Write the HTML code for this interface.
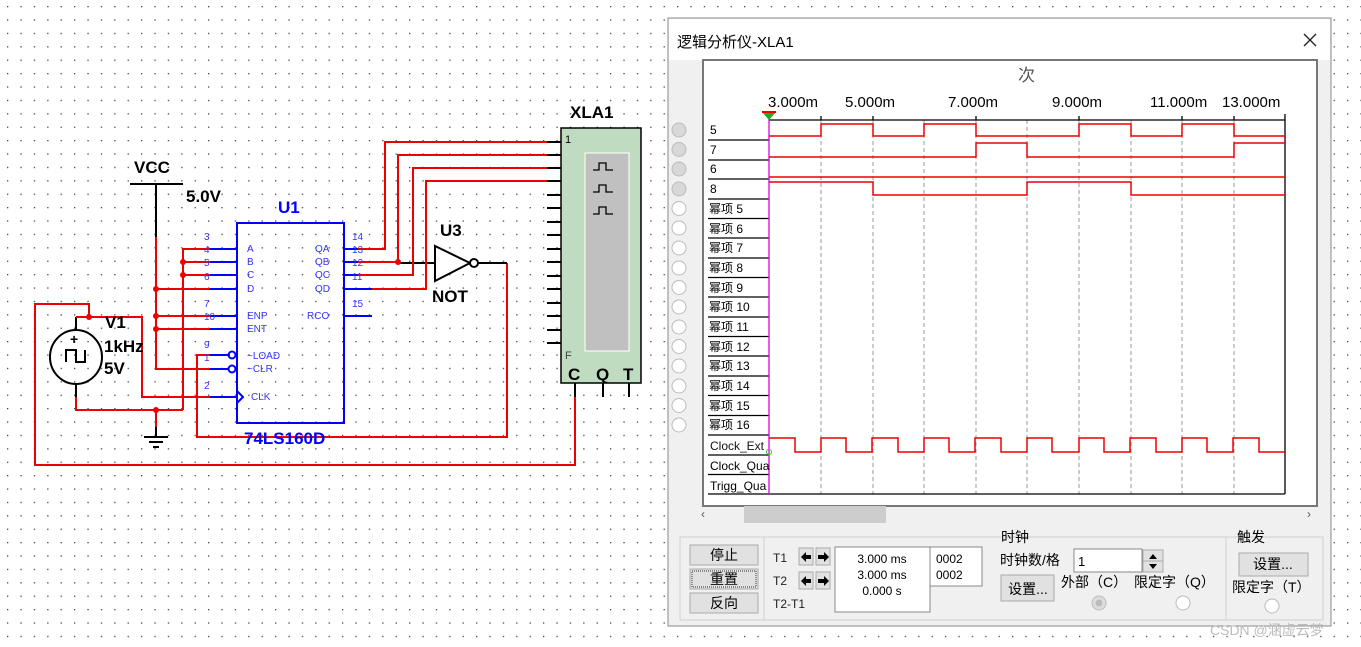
<!DOCTYPE html>
<html><head><meta charset="utf-8"><style>
html,body{margin:0;padding:0;background:#fff}
svg{display:block}
text{font-family:"Liberation Sans","Noto Sans CJK SC",sans-serif}
</style></head><body>
<svg width="1361" height="647" viewBox="0 0 1361 647" xmlns="http://www.w3.org/2000/svg">
<defs>
<pattern id="dots" x="7" y="6" width="13.4" height="13.4" patternUnits="userSpaceOnUse"><rect x="0" y="0" width="1.3" height="1.3" fill="#444"/></pattern>
</defs>
<rect width="1361" height="647" fill="#fff"/>
<rect width="1361" height="647" fill="url(#dots)"/>

<!-- ===== Circuit ===== -->
<g fill="none" stroke-width="2">
<line x1="130" y1="184" x2="183" y2="184" stroke="#000"/>
<line x1="156" y1="184" x2="156" y2="237" stroke="#000"/>
<polyline points="156,237 156,369 210,369" stroke="#e00"/>
<line x1="156" y1="289" x2="210" y2="289" stroke="#e00"/>
<line x1="156" y1="316" x2="210" y2="316" stroke="#e00"/>
<line x1="156" y1="329" x2="210" y2="329" stroke="#e00"/>
<polyline points="210,249 183,249 183,410" stroke="#e00"/>
<line x1="183" y1="262" x2="210" y2="262" stroke="#e00"/>
<line x1="183" y1="275" x2="210" y2="275" stroke="#e00"/>
<polyline points="76,397 76,410 183,410" stroke="#e00"/>
<line x1="76" y1="384" x2="76" y2="397" stroke="#000"/>
<line x1="156" y1="410" x2="156" y2="427" stroke="#e00"/>
<line x1="156" y1="427" x2="156" y2="436" stroke="#000"/>
<line x1="76" y1="317" x2="76" y2="330" stroke="#000"/>
<polyline points="76,317 142,317 142,397 230,397" stroke="#e00"/>
<polyline points="89,317 89,304 35,304 35,465 575,465 575,397" stroke="#e00"/>
<polyline points="230,355 197,355 197,437 507,437 507,263" stroke="#e00"/>
<line x1="478" y1="263" x2="507" y2="263" stroke="#000"/>
<polyline points="358,249 385,249 385,142 547,142" stroke="#e00"/>
<polyline points="358,262 398,262 398,155 547,155" stroke="#e00"/>
<line x1="398" y1="263" x2="435" y2="263" stroke="#000"/>
<polyline points="358,275 413,275 413,168 547,168" stroke="#e00"/>
<polyline points="358,289 426,289 426,181 547,181" stroke="#e00"/>
</g>
<g stroke="#000" stroke-width="2"><line x1="144" y1="437" x2="168" y2="437"/><line x1="149" y1="442" x2="163" y2="442"/><line x1="153" y1="447" x2="159" y2="447"/></g>
<g fill="#e00">
<circle cx="156" cy="289" r="3"/><circle cx="156" cy="316" r="3"/><circle cx="156" cy="329" r="3"/>
<circle cx="183" cy="262" r="3"/><circle cx="183" cy="275" r="3"/><circle cx="156" cy="410" r="3"/>
<circle cx="89" cy="317" r="3"/><circle cx="398" cy="262" r="3"/>
</g>
<ellipse cx="76" cy="357" rx="26" ry="27" fill="none" stroke="#000" stroke-width="2"/>
<polyline points="66,362 66,350 76,350 76,362 85,362 85,350" fill="none" stroke="#000" stroke-width="2"/>
<text x="70" y="344" font-size="14" font-weight="bold">+</text>
<text x="105" y="328" font-size="17" font-weight="bold">V1</text>
<text x="104" y="352" font-size="17" font-weight="bold">1kHz</text>
<text x="104" y="374" font-size="17" font-weight="bold">5V</text>
<text x="134" y="173" font-size="17" font-weight="bold">VCC</text>
<text x="186" y="202" font-size="17" font-weight="bold">5.0V</text>
<g stroke="#00f" stroke-width="2" fill="none">
<rect x="237" y="223" width="107" height="200"/>
<line x1="210" y1="249" x2="237" y2="249"/><line x1="210" y1="262" x2="237" y2="262"/>
<line x1="210" y1="275" x2="237" y2="275"/><line x1="210" y1="289" x2="237" y2="289"/>
<line x1="210" y1="316" x2="237" y2="316"/><line x1="210" y1="329" x2="237" y2="329"/>
<line x1="210" y1="355" x2="228" y2="355"/><line x1="210" y1="369" x2="228" y2="369"/>
<line x1="210" y1="397" x2="237" y2="397"/>
<circle cx="232" cy="355" r="3.5"/><circle cx="232" cy="369" r="3.5"/>
<polyline points="237,391 243,397 237,403"/>
<line x1="344" y1="249" x2="358" y2="249"/><line x1="344" y1="262" x2="358" y2="262"/>
<line x1="344" y1="275" x2="358" y2="275"/><line x1="344" y1="289" x2="372" y2="289"/>
<line x1="344" y1="316" x2="372" y2="316"/>
</g>
<g fill="#33f" font-size="10" font-family="Liberation Mono,monospace">
<text x="204" y="240">3</text><text x="204" y="253">4</text><text x="204" y="266">5</text><text x="204" y="280">6</text>
<text x="204" y="307">7</text><text x="204" y="320">10</text><text x="204" y="348">9</text><text x="204" y="361">1</text><text x="204" y="389">2</text>
<text x="247" y="252">A</text><text x="247" y="265">B</text><text x="247" y="278">C</text><text x="247" y="292">D</text>
<text x="247" y="319">ENP</text><text x="247" y="332">ENT</text><text x="247" y="359">~LOAD</text><text x="247" y="372">~CLR</text><text x="251" y="400">CLK</text>
<text x="315" y="252">QA</text><text x="315" y="265">QB</text><text x="315" y="278">QC</text><text x="315" y="292">QD</text><text x="307" y="319">RCO</text>
<text x="352" y="240">14</text><text x="352" y="253">13</text><text x="352" y="266">12</text><text x="352" y="280">11</text><text x="352" y="307">15</text>
</g>
<text x="278" y="213" font-size="17" font-weight="bold" fill="#00f">U1</text>
<text x="244" y="444" font-size="17" font-weight="bold" fill="#00f">74LS160D</text>
<polygon points="435,246 435,281 470,263" fill="#fff" stroke="#000" stroke-width="2"/>
<circle cx="474" cy="263" r="4" fill="#fff" stroke="#000" stroke-width="2"/>
<text x="440" y="236" font-size="17" font-weight="bold">U3</text>
<text x="432" y="302" font-size="17" font-weight="bold">NOT</text>
<text x="570" y="118" font-size="17" font-weight="bold" font-family="Liberation Mono,monospace">XLA1</text>
<rect x="561" y="128" width="80" height="255" fill="#c0dcc0" stroke="#000" stroke-width="1.5"/>
<rect x="585" y="153" width="44" height="198" fill="#c0c0c0" stroke="#fff" stroke-width="1"/>
<g stroke="#000" stroke-width="1.3" fill="none">
<polyline points="593,170 599,170 599,163 606,163 606,170 613,170"/>
<polyline points="593,192 599,192 599,185 606,185 606,192 613,192"/>
<polyline points="593,214 599,214 599,207 606,207 606,214 613,214"/>
</g>
<g stroke="#000" stroke-width="2">
<line x1="547" y1="142" x2="561" y2="142"/><line x1="547" y1="155" x2="561" y2="155"/><line x1="547" y1="168" x2="561" y2="168"/><line x1="547" y1="181" x2="561" y2="181"/>
<line x1="547" y1="195" x2="561" y2="195"/><line x1="547" y1="208" x2="561" y2="208"/><line x1="547" y1="222" x2="561" y2="222"/><line x1="547" y1="235" x2="561" y2="235"/>
<line x1="547" y1="249" x2="561" y2="249"/><line x1="547" y1="262" x2="561" y2="262"/><line x1="547" y1="276" x2="561" y2="276"/><line x1="547" y1="289" x2="561" y2="289"/>
<line x1="547" y1="303" x2="561" y2="303"/><line x1="547" y1="316" x2="561" y2="316"/><line x1="547" y1="330" x2="561" y2="330"/><line x1="547" y1="343" x2="561" y2="343"/>
<line x1="603" y1="383" x2="603" y2="397"/><line x1="629" y1="383" x2="629" y2="397"/><line x1="575" y1="383" x2="575" y2="397"/>
</g>
<text x="565" y="143" font-size="11">1</text><text x="565" y="359" font-size="11" fill="#444">F</text>
<text x="568" y="380" font-size="17" font-weight="bold">C</text><text x="596" y="380" font-size="17" font-weight="bold">Q</text><text x="623" y="380" font-size="17" font-weight="bold">T</text>

<!-- ===== Logic analyzer window ===== -->
<rect x="668" y="18" width="663" height="608" fill="#f0f0f0" stroke="#888" stroke-width="1"/>
<rect x="669" y="19" width="661" height="41" fill="#fff"/>
<text x="677" y="47" font-size="15">逻辑分析仪-XLA1</text>
<g stroke="#222" stroke-width="1.3"><line x1="1304" y1="34" x2="1316" y2="46"/><line x1="1316" y1="34" x2="1304" y2="46"/></g>
<g stroke="#bbb" stroke-width="1">
<circle cx="679" cy="130" r="7" fill="#d8d8d8"/><circle cx="679" cy="149.5" r="7" fill="#d8d8d8"/><circle cx="679" cy="169" r="7" fill="#d8d8d8"/><circle cx="679" cy="189" r="7" fill="#d8d8d8"/>
<circle cx="679" cy="208.5" r="7" fill="#fff"/><circle cx="679" cy="228" r="7" fill="#fff"/><circle cx="679" cy="248" r="7" fill="#fff"/><circle cx="679" cy="268" r="7" fill="#fff"/>
<circle cx="679" cy="287.5" r="7" fill="#fff"/><circle cx="679" cy="307" r="7" fill="#fff"/><circle cx="679" cy="327" r="7" fill="#fff"/><circle cx="679" cy="346.5" r="7" fill="#fff"/>
<circle cx="679" cy="366" r="7" fill="#fff"/><circle cx="679" cy="386" r="7" fill="#fff"/><circle cx="679" cy="405.5" r="7" fill="#fff"/><circle cx="679" cy="425" r="7" fill="#fff"/>
</g>
<rect x="703" y="60" width="614" height="446" fill="#fff" stroke="#777" stroke-width="2"/>
<text x="1018" y="81" font-size="17" fill="#555" font-family="Liberation Serif,Noto Serif CJK SC,serif">次</text>
<g font-size="15">
<text x="768" y="107">3.000m</text><text x="845" y="107">5.000m</text><text x="948" y="107">7.000m</text>
<text x="1052" y="107">9.000m</text><text x="1150" y="107">11.000m</text><text x="1222" y="107">13.000m</text>
</g>
<g stroke="#999" stroke-width="1" stroke-dasharray="4,3">
<line x1="821" y1="120" x2="821" y2="494"/><line x1="873" y1="120" x2="873" y2="494"/><line x1="924" y1="120" x2="924" y2="494"/>
<line x1="976" y1="120" x2="976" y2="494"/><line x1="1027" y1="120" x2="1027" y2="494"/><line x1="1079" y1="120" x2="1079" y2="494"/>
<line x1="1131" y1="120" x2="1131" y2="494"/><line x1="1182" y1="120" x2="1182" y2="494"/><line x1="1234" y1="120" x2="1234" y2="494"/>
</g>
<g stroke="#000" stroke-width="1.3">
<line x1="769" y1="120" x2="1285" y2="120"/><line x1="708" y1="494" x2="1285" y2="494"/>
<line x1="1285" y1="114" x2="1285" y2="494"/>
<line x1="821" y1="116" x2="821" y2="120"/><line x1="873" y1="116" x2="873" y2="120"/><line x1="976" y1="116" x2="976" y2="120"/><line x1="1079" y1="116" x2="1079" y2="120"/><line x1="1182" y1="116" x2="1182" y2="120"/><line x1="1234" y1="116" x2="1234" y2="120"/>
<line x1="708" y1="140" x2="769" y2="140"/><line x1="708" y1="160" x2="769" y2="160"/><line x1="708" y1="179" x2="769" y2="179"/><line x1="708" y1="199" x2="769" y2="199"/>
<line x1="708" y1="218.5" x2="769" y2="218.5"/><line x1="708" y1="238" x2="769" y2="238"/><line x1="708" y1="258" x2="769" y2="258"/><line x1="708" y1="277.5" x2="769" y2="277.5"/>
<line x1="708" y1="297" x2="769" y2="297"/><line x1="708" y1="317" x2="769" y2="317"/><line x1="708" y1="336.5" x2="769" y2="336.5"/><line x1="708" y1="356" x2="769" y2="356"/>
<line x1="708" y1="376" x2="769" y2="376"/><line x1="708" y1="395.5" x2="769" y2="395.5"/><line x1="708" y1="415.5" x2="769" y2="415.5"/><line x1="708" y1="435" x2="769" y2="435"/>
<line x1="708" y1="455" x2="769" y2="455"/><line x1="708" y1="474.5" x2="769" y2="474.5"/>
</g>
<line x1="769" y1="113" x2="769" y2="494" stroke="#e000e0" stroke-width="1.3"/>
<polygon points="762,112 776,112 769,120" fill="#2a2"/><line x1="762" y1="112" x2="776" y2="112" stroke="#e00" stroke-width="2"/>
<g font-size="12">
<text x="710" y="134">5</text><text x="710" y="154">7</text><text x="710" y="173">6</text><text x="710" y="193">8</text>
<text x="709" y="213">幂项 5</text><text x="709" y="233">幂项 6</text><text x="709" y="252">幂项 7</text><text x="709" y="272">幂项 8</text>
<text x="709" y="292">幂项 9</text><text x="709" y="311">幂项 10</text><text x="709" y="331">幂项 11</text><text x="709" y="351">幂项 12</text>
<text x="709" y="370">幂项 13</text><text x="709" y="390">幂项 14</text><text x="709" y="410">幂项 15</text><text x="709" y="429">幂项 16</text>
<text x="710" y="450" fill="#111">Clock_Ext</text><text x="710" y="470">Clock_Qua</text><text x="710" y="490">Trigg_Qua</text>
</g>
<g fill="none" stroke="#e00" stroke-width="1.5">
<path d="M769 136H821V124H873V136H924V124H976V136H1079V124H1131V136H1182V124H1234V136H1285"/>
<path d="M769 157H976V143H1027V157H1234V143H1285"/>
<path d="M769 177H1285"/>
<path d="M769 182H873V195H1027V182H1131V195H1285"/>
<path d="M769 438H795V452H821V438H846V452H872V438H898V452H924V438H949V452H975V438H1001V452H1027V438H1052V452H1079V438H1104V452H1130V438H1156V452H1182V438H1207V452H1233V438H1259V452H1285"/>
</g>
<circle cx="769" cy="452" r="2.5" fill="none" stroke="#2c2" stroke-width="1"/>
<rect x="744" y="506" width="142" height="17" fill="#cdcdcd"/>
<text x="701" y="518" font-size="12" fill="#555">‹</text><text x="1307" y="518" font-size="12" fill="#555">›</text>
<g fill="none" stroke="#d0d0d0" stroke-width="1">
<rect x="680" y="537" width="643" height="83"/>
<line x1="764" y1="537" x2="764" y2="620"/><line x1="1226" y1="537" x2="1226" y2="620"/>
</g>
<g stroke="#aaa" stroke-width="1" fill="#e1e1e1">
<rect x="690" y="545" width="68" height="20"/><rect x="690" y="569" width="68" height="20"/><rect x="690" y="593" width="68" height="20"/>
<rect x="799" y="548" width="14" height="17"/><rect x="816" y="548" width="14" height="17"/>
<rect x="799" y="572" width="14" height="17"/><rect x="816" y="572" width="14" height="17"/>
<rect x="1001" y="575" width="53" height="26"/><rect x="1239" y="553" width="69" height="23"/>
<rect x="1143" y="550" width="20" height="22"/>
</g>
<rect x="692" y="571" width="64" height="16" fill="none" stroke="#333" stroke-width="1" stroke-dasharray="1,1"/>
<g font-size="14" text-anchor="middle">
<text x="724" y="560">停止</text><text x="724" y="584">重置</text><text x="724" y="608">反向</text>
<text x="1028" y="594">设置...</text><text x="1273" y="569">设置...</text>
</g>
<g fill="#000"><polygon points="801,557 806,552 806,562"/><rect x="806" y="555" width="5" height="4"/><polygon points="829,557 824,552 824,562"/><rect x="818" y="555" width="6" height="4"/>
<polygon points="801,581 806,576 806,586"/><rect x="806" y="579" width="5" height="4"/><polygon points="829,581 824,576 824,586"/><rect x="818" y="579" width="6" height="4"/></g>
<g font-size="12" fill="#222"><text x="773" y="562">T1</text><text x="773" y="585">T2</text><text x="773" y="608">T2-T1</text></g>
<rect x="835" y="547" width="95" height="65" fill="#fff" stroke="#888"/>
<rect x="930" y="547" width="52" height="39" fill="#fff" stroke="#888"/>
<g font-size="12" text-anchor="middle"><text x="882" y="563">3.000 ms</text><text x="882" y="579">3.000 ms</text><text x="882" y="595">0.000 s</text></g>
<g font-size="12"><text x="936" y="563">0002</text><text x="936" y="579">0002</text></g>
<text x="1001" y="542" font-size="14">时钟</text>
<text x="1237" y="542" font-size="14">触发</text>
<text x="1000" y="565" font-size="14">时钟数/格</text>
<rect x="1074" y="549" width="68" height="23" fill="#fff" stroke="#888"/>
<text x="1078" y="566" font-size="13">1</text>
<polygon points="1149,559 1157,559 1153,554" fill="#000"/><polygon points="1149,564 1157,564 1153,569" fill="#000"/>
<line x1="1143" y1="561" x2="1163" y2="561" stroke="#aaa"/>
<g font-size="14"><text x="1061" y="587">外部（C）</text><text x="1134" y="587">限定字（Q）</text><text x="1232" y="592">限定字（T）</text></g>
<circle cx="1099" cy="603" r="7" fill="#ddd" stroke="#bbb"/><circle cx="1099" cy="603" r="3.5" fill="#bbb"/>
<circle cx="1183" cy="603" r="7" fill="#fff" stroke="#bbb"/>
<circle cx="1272" cy="606" r="7" fill="#fff" stroke="#bbb"/>
<text x="1210" y="635" font-size="14" fill="#bbb">CSDN @涵虚云梦</text>
</svg>
</body></html>
